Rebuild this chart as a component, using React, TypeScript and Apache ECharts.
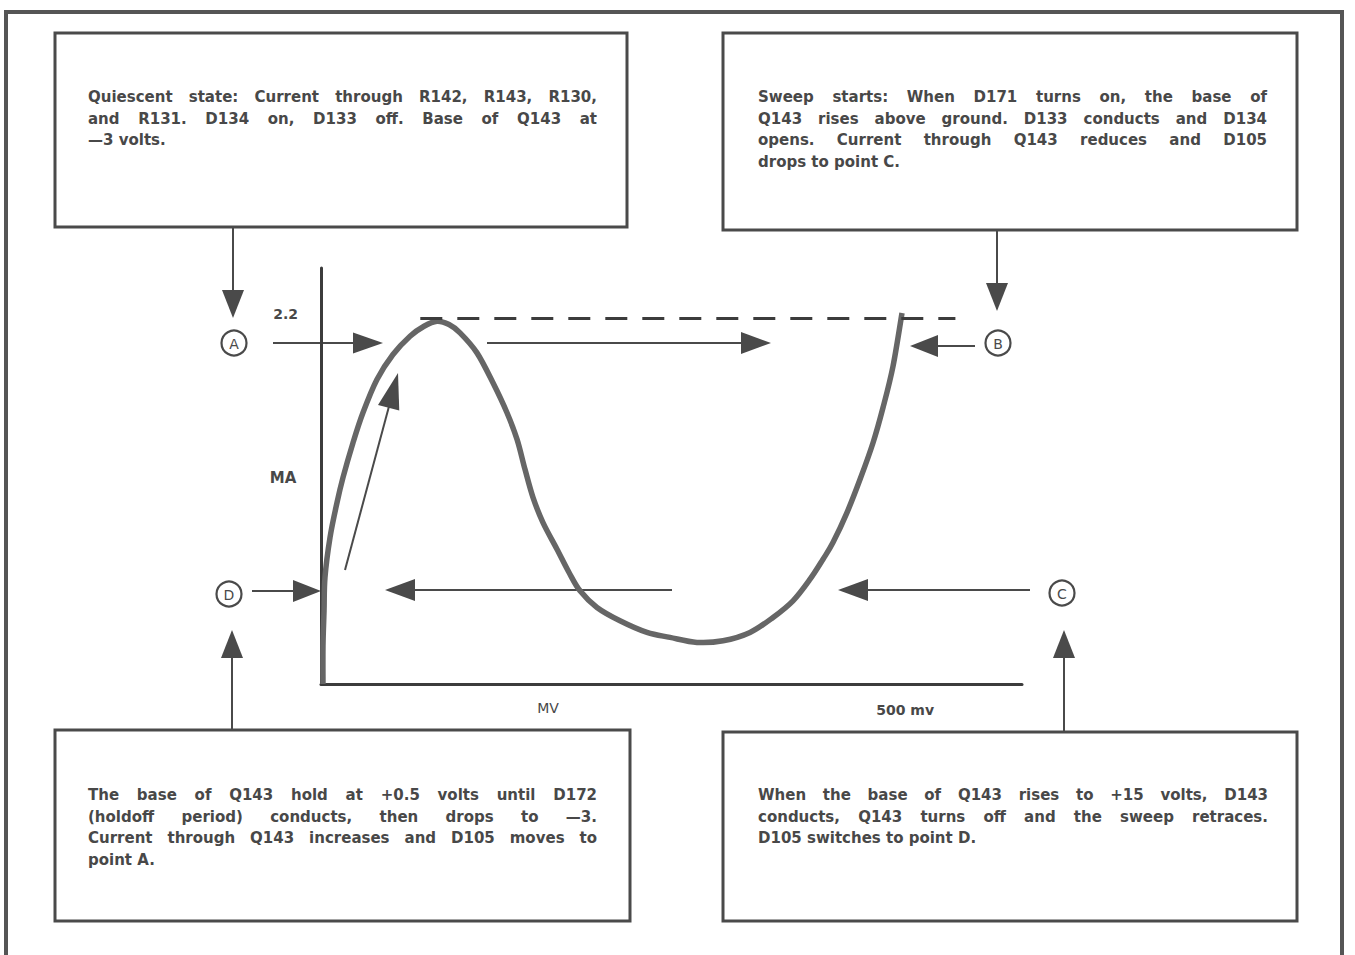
import React, { useEffect, useRef } from "react";
import * as echarts from "echarts";

// Tunnel diode characteristic (mV vs mA)
const curveMv = [1.7, 1.7, 2.6, 3.4, 7.7, 13.7, 18.8, 27.4, 35.9, 47.9, 61.6, 76.2, 88.2, 99.3, 109.6, 119.0, 133.5, 147.2, 159.2, 167.8, 174.6, 181.5, 190.0, 202.0, 212.3, 221.7, 236.2, 255.9, 279.0, 298.7, 321.8, 344.1, 367.2, 386.9, 404.0, 418.6, 429.7, 438.2, 450.2, 461.4, 472.5, 481.0, 489.6, 497.3];
const curveMa = [0, 0.23, 0.44, 0.64, 0.88, 1.09, 1.24, 1.45, 1.63, 1.83, 1.98, 2.09, 2.15, 2.18, 2.16, 2.11, 1.99, 1.81, 1.63, 1.47, 1.29, 1.12, 0.97, 0.81, 0.67, 0.56, 0.46, 0.38, 0.31, 0.28, 0.25, 0.26, 0.31, 0.40, 0.50, 0.63, 0.75, 0.85, 1.03, 1.23, 1.45, 1.66, 1.91, 2.23];
const peakLevel = 2.2;
const peakLineRange = [85, 543];
const yTickValues = [2.2];
const xTickValues = [500];
const xMax = 600;
const yMax = 2.5;

const quiescentLines = [
  "Quiescent state:  Current through R142, R143, R130,",
  "and R131.  D134 on, D133 off. Base of Q143 at",
  "—3 volts.",
];
const sweepStartLines = [
  "Sweep starts:  When D171 turns on, the base of",
  "Q143 rises above ground. D133 conducts and D134",
  "opens.  Current through Q143 reduces and D105",
  "drops to point C.",
];
const holdoffLines = [
  "The base of Q143 hold at +0.5 volts until D172",
  "(holdoff period) conducts, then drops to —3.",
  "Current through Q143 increases and D105 moves to",
  "point A.",
];
const retraceLines = [
  "When the base of Q143 rises to +15 volts, D143",
  "conducts, Q143 turns off and the sweep retraces.",
  "D105 switches to point D.",
];

const FONT_FAMILY = "DejaVu Sans";
const FONT_SIZE = 15;
const FONT_WEIGHT = "bold";
const TEXT_COLOR = "#484848";
const INK = "#4a4a4a";

function measure(text: string): number {
  const c = document.createElement("canvas").getContext("2d")!;
  c.font = `${FONT_WEIGHT} ${FONT_SIZE}px "${FONT_FAMILY}"`;
  return c.measureText(text).width;
}

function textLine(text: string, x0: number, x1: number, y: number, justify: boolean): any[] {
  const style = (t: string) => ({
    text: t,
    fill: TEXT_COLOR,
    fontFamily: FONT_FAMILY,
    fontSize: FONT_SIZE,
    fontWeight: FONT_WEIGHT,
    verticalAlign: "middle",
    align: "left",
  });
  const words = text.split(/\s+/).filter((w) => w.length);
  if (!justify || words.length < 2) {
    return [{ type: "text", x: x0, y, style: style(text) }];
  }
  const widths = words.map(measure);
  const total = widths.reduce((a, b) => a + b, 0);
  const gap = (x1 - x0 - total) / (words.length - 1);
  const out: any[] = [];
  let x = x0;
  words.forEach((w, i) => {
    out.push({ type: "text", x, y, style: style(w) });
    x += widths[i] + gap;
  });
  return out;
}

function paragraph(lines: string[], x0: number, x1: number, y0: number, dy: number): any[] {
  const out: any[] = [];
  lines.forEach((l, i) => {
    out.push(...textLine(l, x0, x1, y0 + i * dy, i < lines.length - 1));
  });
  return out;
}

function arrow(x1: number, y1: number, x2: number, y2: number, len = 26, hw = 10, width = 2): any[] {
  const dx = x2 - x1;
  const dy = y2 - y1;
  const d = Math.sqrt(dx * dx + dy * dy);
  const ux = dx / d;
  const uy = dy / d;
  const bx = x2 - ux * len;
  const by = y2 - uy * len;
  const px = -uy;
  const py = ux;
  return [
    {
      type: "line",
      shape: { x1, y1, x2: bx + ux * 2, y2: by + uy * 2 },
      style: { stroke: INK, lineWidth: width },
    },
    {
      type: "polygon",
      shape: {
        points: [
          [x2, y2],
          [bx + px * hw, by + py * hw],
          [bx - px * hw, by - py * hw],
        ],
      },
      style: { fill: INK },
    },
  ];
}

function circleLabel(cx: number, cy: number, letter: string): any[] {
  return [
    {
      type: "circle",
      shape: { cx, cy, r: 12.5 },
      style: { fill: "#fff", stroke: INK, lineWidth: 2.2 },
    },
    {
      type: "text",
      x: cx,
      y: cy + 1,
      style: {
        text: letter,
        fill: INK,
        fontFamily: FONT_FAMILY,
        fontSize: 14,
        align: "center",
        verticalAlign: "middle",
      },
    },
  ];
}

function box(x: number, y: number, w: number, h: number): any {
  return {
    type: "rect",
    shape: { x, y, width: w, height: h },
    style: { fill: "none", stroke: INK, lineWidth: 3 },
  };
}

function label(text: string, x: number, y: number, bold = false, size = 14): any {
  return {
    type: "text",
    x,
    y,
    style: {
      text,
      fill: TEXT_COLOR,
      fontFamily: FONT_FAMILY,
      fontSize: size,
      fontWeight: bold ? "bold" : "normal",
      align: "center",
      verticalAlign: "middle",
    },
  };
}

// smooth curve through the data points, in pixel space (Catmull-Rom -> cubic Bezier)
function curveRenderItem(params: any, api: any) {
  if (params.dataIndex !== 0) return null;
  const pts = curveMv.map((v, i) => api.coord([v, curveMa[i]]));
  let d = `M${pts[0][0]},${pts[0][1]}`;
  for (let i = 0; i < pts.length - 1; i++) {
    const p0 = pts[Math.max(0, i - 1)];
    const p1 = pts[i];
    const p2 = pts[i + 1];
    const p3 = pts[Math.min(pts.length - 1, i + 2)];
    const c1x = p1[0] + (p2[0] - p0[0]) / 6;
    const c1y = p1[1] + (p2[1] - p0[1]) / 6;
    const c2x = p2[0] - (p3[0] - p1[0]) / 6;
    const c2y = p2[1] - (p3[1] - p1[1]) / 6;
    d += ` C${c1x},${c1y} ${c2x},${c2y} ${p2[0]},${p2[1]}`;
  }
  return {
    type: "path",
    shape: { pathData: d },
    style: { stroke: "#666", lineWidth: 5.5, fill: "none", lineJoin: "round", lineCap: "butt" },
  };
}

function App() {
  const ref = useRef<HTMLDivElement>(null);
  useEffect(() => {
    if (!ref.current) return;
    const chart = echarts.init(ref.current, undefined, { renderer: "svg" });
    const data = curveMv.map((v, i) => [v, curveMa[i]]);

    const graphics: any[] = [
      // outer frame
      {
        type: "polyline",
        shape: { points: [[6, 955], [6, 12], [1342, 12], [1342, 955]] },
        style: { stroke: "#555", lineWidth: 4, fill: "none" },
      },
      box(55, 33, 572, 194),
      box(723, 33, 574, 197),
      box(55, 730, 575, 191),
      box(723, 732, 574, 189),
      ...paragraph(quiescentLines, 88, 597, 97, 21.5),
      ...paragraph(sweepStartLines, 758, 1267, 97, 21.7),
      ...paragraph(holdoffLines, 88, 597, 795, 21.7),
      ...paragraph(retraceLines, 758, 1268, 795, 21.5),
      // connectors from boxes
      ...arrow(233, 227, 233, 318, 28, 11),
      ...arrow(997, 230, 997, 311, 28, 11),
      ...arrow(232, 730, 232, 630, 28, 11),
      ...arrow(1064, 732, 1064, 630, 28, 11),
      // horizontal arrows
      ...arrow(273, 343, 383, 343, 30, 10.5),
      ...arrow(487, 343, 771, 343, 30, 11),
      ...arrow(975, 346, 910, 346, 28, 11),
      ...arrow(252, 591, 321, 591, 28, 11),
      ...arrow(672, 590, 385, 590, 30, 11),
      ...arrow(1030, 590, 838, 590, 30, 11),
      ...arrow(345, 570, 398, 373, 36, 11),
      ...circleLabel(234, 343, "A"),
      ...circleLabel(998, 343, "B"),
      ...circleLabel(1062, 593, "C"),
      ...circleLabel(229, 594, "D"),
      label("MV", 548, 708),
      label("MA", 283, 478, true, 15),
    ];

    chart.setOption({
      animation: false,
      backgroundColor: "#ffffff",
      grid: { left: 321, top: 268, width: 701, height: 416, containLabel: false },
      xAxis: {
        type: "value",
        min: 0,
        max: xMax,
        splitLine: { show: false },
        axisTick: { show: false },
        axisLine: { lineStyle: { color: "#3c3c3c", width: 3 } },
        axisLabel: {
          customValues: xTickValues,
          formatter: (v: number) => `${v} mv`,
          color: TEXT_COLOR,
          fontFamily: FONT_FAMILY,
          fontSize: 14,
          fontWeight: "bold",
          margin: 19,
        },
      },
      yAxis: {
        type: "value",
        min: 0,
        max: yMax,
        splitLine: { show: false },
        axisTick: { show: false },
        axisLine: { show: true, lineStyle: { color: "#3c3c3c", width: 3 } },
        axisLabel: {
          customValues: yTickValues,
          formatter: (v: number) => v.toFixed(1),
          color: TEXT_COLOR,
          fontFamily: FONT_FAMILY,
          fontSize: 14,
          fontWeight: "bold",
          margin: 23,
          verticalAlign: "bottom",
          lineHeight: 8,
        },
      },
      series: [
        {
          type: "custom",
          renderItem: curveRenderItem,
          data,
          encode: { x: 0, y: 1 },
          clip: false,
          markLine: {
            silent: true,
            symbol: "none",
            label: { show: false },
            lineStyle: { color: "#3c3c3c", width: 3, type: [22, 15] },
            data: [
              [
                { coord: [peakLineRange[0], peakLevel] },
                { coord: [peakLineRange[1], peakLevel] },
              ],
            ],
          },
        },
      ],
      graphic: graphics,
    });
    return () => chart.dispose();
  }, []);
  return (
    <div
      ref={ref}
      style={{ position: "absolute", left: 0, top: 0, width: 1355, height: 955, background: "#fff" }}
    />
  );
}

export default App;
